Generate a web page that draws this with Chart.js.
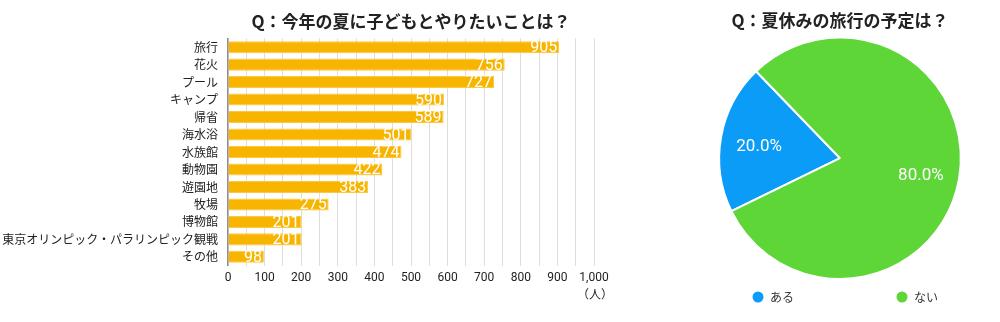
<!DOCTYPE html>
<html lang="ja">
<head>
<meta charset="utf-8">
<script src="https://cdn.jsdelivr.net/npm/chart.js@4"></script>
<style>
    html, body { margin: 0; padding: 0; background: #fff; }
    #wrap { position: relative; width: 1000px; height: 322px; overflow: hidden; }
    #barBox { position: absolute; left: 0; top: 0; width: 640px; height: 322px; }
    #pieBox { position: absolute; left: 710px; top: 0; width: 260px; height: 322px; }
</style>
</head>
<body>
<div id="wrap">
    <div id="barBox"><canvas id="barChart" width="640" height="322"></canvas></div>
    <div id="pieBox"><canvas id="pieChart" width="260" height="322"></canvas></div>
</div>
<script>
// 左：今年の夏に子どもとやりたいこと
const barTitle = 'Q：今年の夏に子どもとやりたいことは？';
const barLabels = ['旅行', '花火', 'プール', 'キャンプ', '帰省', '海水浴', '水族館', '動物園', '遊園地', '牧場', '博物館', '東京オリンピック・パラリンピック観戦', 'その他'];
const barValues = [905, 756, 727, 590, 589, 501, 474, 422, 383, 275, 201, 201, 98];
const barUnit = '（人）';

// 右：夏休みの旅行の予定
const pieTitle = 'Q：夏休みの旅行の予定は？';
const pieLabels = ['ある', 'ない'];
const pieValues = [20, 80];

const jpFont = '"Noto Sans CJK JP", "Noto Sans", sans-serif';
const numFont = 'Roboto, "Liberation Sans", sans-serif';

Chart.defaults.font.family = jpFont;
Chart.defaults.color = '#333';

// バーの値ラベル（バーの右端内側に白文字）と単位
const barValuePlugin = {
    id: 'barValues',
    afterDatasetsDraw(chart) {
        const ctx = chart.ctx;
        const meta = chart.getDatasetMeta(0);
        ctx.save();
        ctx.font = '16px ' + numFont;
        ctx.fillStyle = '#fff';
        ctx.textAlign = 'right';
        ctx.textBaseline = 'middle';
        meta.data.forEach((bar, i) => {
            ctx.fillText(String(chart.data.datasets[0].data[i]), bar.x - 2, bar.y + 1);
        });

        // 単位（人）
        ctx.font = '12px ' + jpFont;
        ctx.fillStyle = '#222';
        ctx.textAlign = 'right';
        ctx.fillText(barUnit, chart.chartArea.right + 19, chart.chartArea.bottom + 29);
        ctx.restore();
    }
};

new Chart(document.getElementById('barChart'), {
    type: 'bar',
    data: {
        labels: barLabels,
        datasets: [{
            data: barValues,
            backgroundColor: '#F8B500',
            borderColor: '#FAC843',
            borderWidth: 1,
            borderSkipped: 'start',
            barPercentage: 0.8,
            categoryPercentage: 0.86
        }]
    },
    options: {
        indexAxis: 'y',
        responsive: false,
        animation: false,
        devicePixelRatio: 1,
        layout: { padding: { left: 0, right: 46, top: 0, bottom: 32 } },
        plugins: {
            legend: { display: false },
            tooltip: { enabled: false },
            title: {
                display: true,
                text: barTitle,
                fullSize: false,
                color: '#222',
                font: { size: 17, weight: 'bold' },
                padding: { top: 11, bottom: 7 }
            }
        },
        scales: {
            x: {
                min: 0,
                max: 1000,
                border: { display: false },
                grid: { color: '#dedede', lineWidth: 1, drawTicks: false },
                ticks: {
                    stepSize: 50,
                    padding: 5,
                    autoSkip: false,
                    maxRotation: 0,
                    color: '#222',
                    font: { size: 12, family: numFont },
                    callback: v => (v % 100 === 0 ? v.toLocaleString('en-US') : '')
                }
            },
            y: {
                border: { display: true, color: '#8f8f96', width: 1.5 },
                grid: { display: false, drawTicks: false },
                ticks: { color: '#222', font: { size: 12 }, padding: 10, autoSkip: false },
                afterFit: scale => { scale.width = 228; }
            }
        }
    },
    plugins: [barValuePlugin]
});

// 円グラフのパーセント表示と凡例
const piePlugin = {
    id: 'pieExtras',
    afterDatasetsDraw(chart) {
        const ctx = chart.ctx;
        const ds = chart.data.datasets[0];
        const total = ds.data.reduce((a, b) => a + b, 0);
        const meta = chart.getDatasetMeta(0);
        ctx.save();
        ctx.font = '17px ' + numFont;
        ctx.fillStyle = '#fff';
        ctx.textAlign = 'center';
        ctx.textBaseline = 'middle';
        meta.data.forEach((arc, i) => {
            const p = arc.getProps(['x', 'y', 'startAngle', 'endAngle', 'outerRadius'], true);
            const mid = (p.startAngle + p.endAngle) / 2;
            const r = p.outerRadius * 0.68;
            const pct = (ds.data[i] / total * 100).toFixed(1) + '%';
            ctx.fillText(pct, p.x + Math.cos(mid) * r, p.y + Math.sin(mid) * r + 3);
        });

        // 凡例
        const cx = (chart.chartArea.left + chart.chartArea.right) / 2;
        const ly = chart.chartArea.bottom + 17;
        ctx.font = '12px ' + jpFont;
        ctx.textAlign = 'left';
        chart.data.labels.forEach((label, i) => {
            const x0 = cx - 88 + i * 144;
            ctx.beginPath();
            ctx.arc(x0 + 6, ly, 5.5, 0, Math.PI * 2);
            ctx.fillStyle = ds.backgroundColor[i];
            ctx.fill();
            ctx.fillStyle = '#333';
            ctx.fillText(label, x0 + 18, ly);
        });
        ctx.restore();
    }
};

new Chart(document.getElementById('pieChart'), {
    type: 'pie',
    data: {
        labels: pieLabels,
        datasets: [{
            data: pieValues,
            backgroundColor: ['#0A9CF6', '#5ED638'],
            borderColor: '#fff',
            borderWidth: 2
        }]
    },
    options: {
        responsive: false,
        animation: false,
        devicePixelRatio: 1,
        rotation: 244,
        layout: { padding: { left: 0, right: 0, top: 0, bottom: 42 } },
        plugins: {
            legend: { display: false },
            tooltip: { enabled: false },
            title: {
                display: true,
                text: pieTitle,
                color: '#222',
                font: { size: 17, weight: 'bold' },
                padding: { top: 10, bottom: 6 }
            }
        }
    },
    plugins: [piePlugin]
});
</script>
</body>
</html>
